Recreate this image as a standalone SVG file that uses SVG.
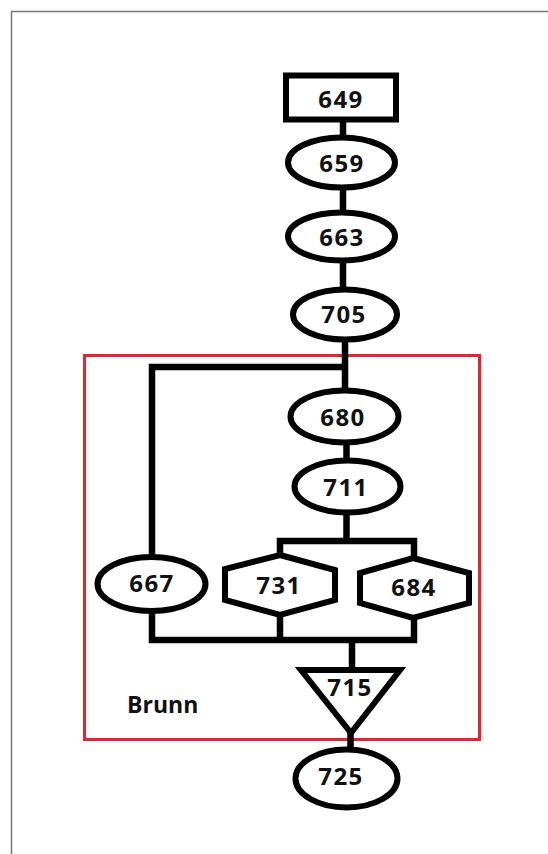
<svg xmlns="http://www.w3.org/2000/svg" width="548" height="854" viewBox="0 0 548 854">
<style>
.shape{fill:#fff;stroke:#000;stroke-width:6}
.wire{fill:none;stroke:#000;stroke-width:6.5}
.num{font-family:"Open Sans","Liberation Sans",sans-serif;font-weight:700;font-size:24px;letter-spacing:1.5px;text-anchor:middle;fill:#111}
.lbl{font-family:"Open Sans","Liberation Sans",sans-serif;font-weight:700;font-size:23px;fill:#111}
</style>
<rect x="0" y="0" width="548" height="854" fill="#fff"/>
<path d="M11.5 854 V11.5 H548" fill="none" stroke="#777" stroke-width="1.5"/>
<rect x="84.5" y="355.5" width="395" height="384" fill="none" stroke="#e3262d" stroke-width="3"/>
<g id="connectors">
<path class="wire" d="M343 120 V137"/>
<path class="wire" d="M343 187 V213"/>
<path class="wire" d="M343 260 V290"/>
<path class="wire" d="M345 339 V391"/>
<path class="wire" d="M345 367 H152 V558"/>
<path class="wire" d="M346.5 442 V461"/>
<path class="wire" d="M346.5 512 V541"/>
<path class="wire" d="M280 556 V541 H414 V559"/>
<path class="wire" d="M152 610 V640 H414 V616"/>
<path class="wire" d="M280 613 V640"/>
<path class="wire" d="M352 640 V670"/>
<path class="wire" d="M350.5 733 V751"/>
</g>
<g id="n649"><rect class="shape" x="286" y="75.5" width="110" height="44"/><text class="num" x="341" y="108">649</text></g>
<g id="n659"><ellipse class="shape" cx="341.5" cy="162.5" rx="53.5" ry="25"/><text class="num" x="342" y="172">659</text></g>
<g id="n663"><ellipse class="shape" cx="341.5" cy="236.5" rx="53.5" ry="24"/><text class="num" x="342" y="246">663</text></g>
<g id="n705"><ellipse class="shape" cx="345" cy="314.5" rx="52" ry="25"/><text class="num" x="344" y="323">705</text></g>
<g id="n680"><ellipse class="shape" cx="344.5" cy="416.5" rx="54" ry="26"/><text class="num" x="343" y="426">680</text></g>
<g id="n711"><ellipse class="shape" cx="347.5" cy="486.5" rx="53" ry="26"/><text class="num" x="346" y="496">711</text></g>
<g id="n667"><ellipse class="shape" cx="151.5" cy="584" rx="54" ry="27"/><text class="num" x="152" y="592">667</text></g>
<g id="n731"><polygon class="shape" points="280,555 335,570 335,600 280,615 225,600 225,569"/><text class="num" x="279" y="594">731</text></g>
<g id="n684"><polygon class="shape" points="413,558 469,573 469,603 413,618 360,603 360,573"/><text class="num" x="414" y="596">684</text></g>
<g id="n715"><polygon class="shape" points="301,670 400,670 351,733"/><text class="num" x="350" y="696">715</text></g>
<g id="n725"><ellipse class="shape" cx="346.5" cy="778.5" rx="51" ry="29"/><text class="num" x="341" y="785">725</text></g>
<text class="lbl" x="127" y="713">Brunn</text>
</svg>
